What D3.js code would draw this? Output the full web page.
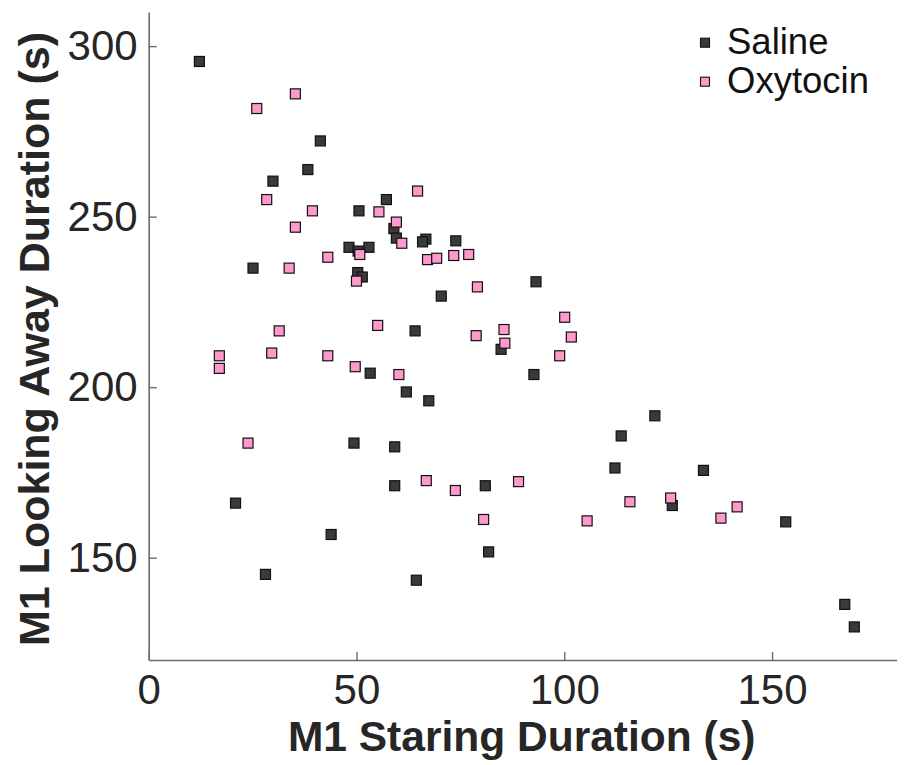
<!DOCTYPE html>
<html>
<head>
<meta charset="utf-8">
<script src="https://cdn.jsdelivr.net/npm/d3@7"></script>
<style>
  html, body { margin: 0; padding: 0; background: #fff; }
  svg { display: block; font-family: "Liberation Sans", Arial, Helvetica, sans-serif; }
</style>
</head>
<body>
<svg id="chart" width="908" height="765"></svg>
<script>
// Staring vs looking-away durations for monkey M1, per session
const salineStaring = [12.2, 41.3, 38.3, 29.9, 50.6, 57.2, 59.0, 59.6, 66.7, 65.9, 73.9, 48.2, 53.0, 50.4,
  25.1, 50.3, 51.4, 70.4, 64.1, 84.8, 53.3, 62.0, 67.4, 49.4, 59.2, 59.2, 81.0, 20.9, 43.9, 81.8, 28.1,
  64.4, 93.2, 92.7, 121.8, 113.7, 112.2, 133.5, 126.0, 153.3, 167.5, 169.8];
const salineLookAway = [295.5, 272.2, 263.8, 260.4, 251.7, 255.0, 246.5, 243.7, 243.4, 242.6, 242.9, 241.0, 241.0, 239.9,
  234.9, 233.6, 232.3, 226.7, 216.5, 211.1, 204.1, 198.6, 196.0, 183.6, 182.5, 171.1, 171.1, 166.0, 156.8, 151.7, 145.1,
  143.4, 230.9, 203.7, 191.6, 185.7, 176.3, 175.6, 165.3, 160.5, 136.3, 129.7];
const oxytocinStaring = [35.3, 26.0, 28.4, 39.4, 55.4, 64.7, 59.6, 35.3, 60.9, 50.8, 43.1, 67.1, 69.3, 73.4,
  77.0, 33.8, 50.0, 79.1, 31.4, 55.1, 85.5, 78.8, 85.7, 17.0, 17.0, 29.6, 43.1, 49.7, 60.2, 23.9, 66.8,
  73.8, 89.0, 80.6, 100.1, 101.7, 98.9, 115.8, 125.6, 105.5, 137.7, 141.6];
const oxytocinLookAway = [286.0, 281.7, 255.0, 251.7, 251.4, 257.5, 248.4, 246.9, 242.2, 238.9, 238.1, 237.4, 237.8, 238.6,
  238.9, 234.9, 231.1, 229.4, 216.5, 218.1, 216.9, 215.1, 212.9, 209.2, 205.5, 210.0, 209.2, 206.0, 203.7, 183.6, 172.6,
  169.7, 172.3, 161.2, 220.5, 214.7, 209.2, 166.4, 167.5, 160.8, 161.6, 164.9];

const xTicks = [0, 50, 100, 150];
const yTicks = [150, 200, 250, 300];
const xDomain = [0, 180];
const yDomain = [120, 310];

const seriesNames = ["Saline", "Oxytocin"];
const seriesColors = ["#3a3a3a", "#ff99cc"];

const series = [
  { name: seriesNames[0], color: seriesColors[0], xs: salineStaring, ys: salineLookAway },
  { name: seriesNames[1], color: seriesColors[1], xs: oxytocinStaring, ys: oxytocinLookAway }
];

const svg = d3.select("#chart");
const plot = { left: 148.7, right: 896.7, top: 12, bottom: 660 };

const x = d3.scaleLinear().domain(xDomain).range([plot.left, plot.right]);
const y = d3.scaleLinear().domain(yDomain).range([plot.bottom, plot.top]);

const axisColor = "#6b6b6b";
const tickFont = 42;

// x axis
const gx = svg.append("g").attr("transform", `translate(0,${plot.bottom})`)
  .call(d3.axisBottom(x).tickValues(xTicks).tickSize(-8).tickSizeOuter(0).tickPadding(16)
    .tickFormat(d3.format("d")));
gx.select(".domain").attr("stroke", axisColor).attr("stroke-width", 1.6);
gx.selectAll(".tick line").attr("stroke", axisColor).attr("stroke-width", 1.4);
gx.selectAll(".tick text").attr("font-size", tickFont).attr("fill", "#262626")
  .attr("font-family", "'Liberation Sans', Arial, sans-serif").attr("dy", "0.66em");

// y axis
const gy = svg.append("g").attr("transform", `translate(${plot.left},0)`)
  .call(d3.axisLeft(y).tickValues(yTicks).tickSize(-8).tickSizeOuter(0).tickPadding(11)
    .tickFormat(d3.format("d")));
gy.select(".domain").attr("stroke", axisColor).attr("stroke-width", 1.6);
gy.selectAll(".tick line").attr("stroke", axisColor).attr("stroke-width", 1.4);
gy.selectAll(".tick text").attr("font-size", tickFont).attr("fill", "#262626")
  .attr("font-family", "'Liberation Sans', Arial, sans-serif");

// axis titles
svg.append("text")
  .attr("x", (plot.left + plot.right) / 2 - 1)
  .attr("y", 751)
  .attr("text-anchor", "middle")
  .attr("font-size", 42.5)
  .attr("font-weight", "bold")
  .attr("fill", "#262626")
  .text("M1 Staring Duration (s)");

svg.append("text")
  .attr("transform", `translate(49,${(plot.top + plot.bottom) / 2 + 3}) rotate(-90)`)
  .attr("text-anchor", "middle")
  .attr("font-size", 43)
  .attr("font-weight", "bold")
  .attr("fill", "#262626")
  .text("M1 Looking Away Duration (s)");

// markers
const size = 10;
series.forEach(s => {
  svg.append("g").selectAll("rect")
    .data(s.xs.map((v, i) => [v, s.ys[i]]))
    .join("rect")
    .attr("x", d => x(d[0]) - size / 2)
    .attr("y", d => y(d[1]) - size / 2)
    .attr("width", size)
    .attr("height", size)
    .attr("fill", s.color)
    .attr("stroke", "#111")
    .attr("stroke-width", 1.2);
});

// legend
const legend = svg.append("g");
series.forEach((s, i) => {
  const cy = 42.7 + i * 39;
  legend.append("rect")
    .attr("x", 705 - 4.5).attr("y", cy - 4.5)
    .attr("width", 9).attr("height", 9)
    .attr("fill", s.color).attr("stroke", "#111").attr("stroke-width", 1.1);
  legend.append("text")
    .attr("x", 727).attr("y", cy + 11)
    .attr("font-size", 36.5)
    .attr("fill", "#111")
    .text(s.name);
});
</script>
</body>
</html>
